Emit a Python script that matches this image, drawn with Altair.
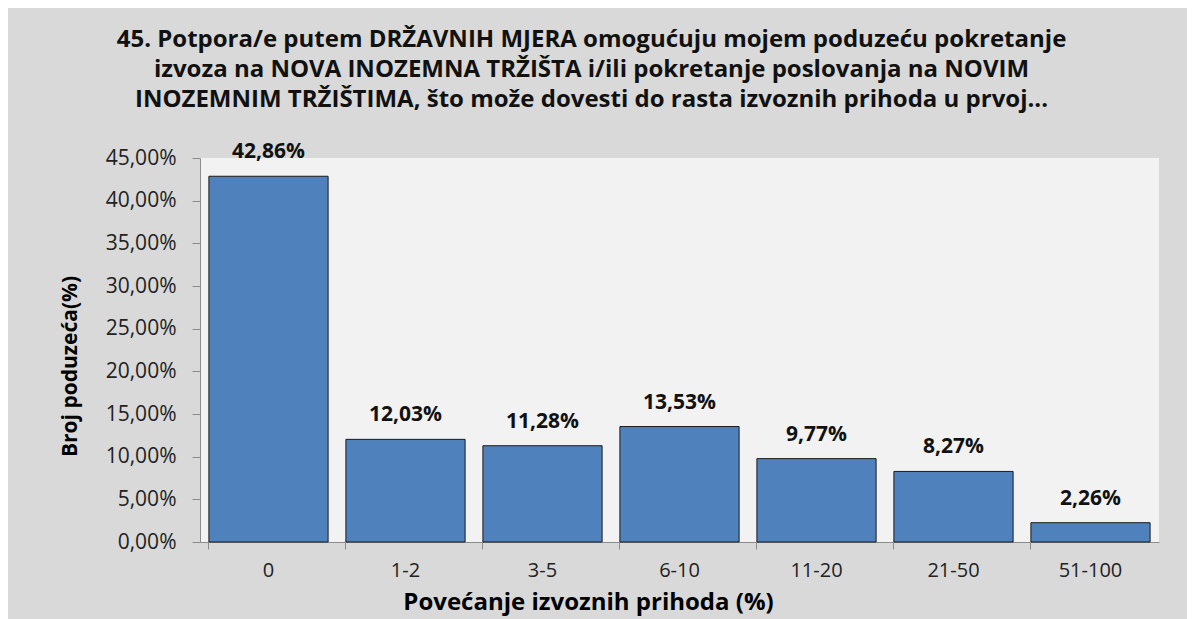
import altair as alt
import pandas as pd

categories = ["0", "1-2", "3-5", "6-10", "11-20", "21-50", "51-100"]
values = [42.86, 12.03, 11.28, 13.53, 9.77, 8.27, 2.26]
labels = ["42,86%", "12,03%", "11,28%", "13,53%", "9,77%", "8,27%", "2,26%"]
title_lines = [
    "45. Potpora/e putem DRŽAVNIH MJERA omogućuju mojem poduzeću pokretanje",
    "izvoza na NOVA INOZEMNA TRŽIŠTA i/ili  pokretanje poslovanja na NOVIM",
    "INOZEMNIM TRŽIŠTIMA, što može dovesti  do rasta izvoznih prihoda u prvoj...",
]

df = pd.DataFrame({"cat": categories, "val": values, "lab": labels})

FONT = "Open Sans"

x = alt.X(
    "cat:N",
    sort=categories,
    title="Povećanje izvoznih prihoda  (%)",
    scale=alt.Scale(paddingInner=0.13, paddingOuter=0.065),
    axis=alt.Axis(
        labelAngle=0, labelFontSize=20, labelColor="#222", labelPadding=11,
        titleFontSize=24, titleFontWeight="bold", titleColor="#000",
        titleX=388, titleY=67, titleAlign="center", titleBaseline="alphabetic",
        domainColor="#8c8c8c", tickColor="#8c8c8c", tickSize=7, bandPosition=0,
        labelFont=FONT, titleFont=FONT,
    ),
)
y = alt.Y(
    "val:Q",
    title="Broj poduzeća(%)",
    scale=alt.Scale(domain=[0, 45], nice=False),
    axis=alt.Axis(
        values=[0, 5, 10, 15, 20, 25, 30, 35, 40, 45],
        labelExpr="replace(format(datum.value/100, '.2%'), '.', ',')",
        labelFontSize=21, labelColor="#222", labelPadding=16,
        titleFontSize=21, titleFontWeight="bold", titleColor="#000",
        titleX=-130, titleY=208, titleAlign="center", titleBaseline="middle", titleAngle=270,
        domainColor="#8c8c8c", tickColor="#8c8c8c", tickSize=8, grid=False,
        labelFont=FONT, titleFont=FONT,
    ),
)

bars = alt.Chart(df).mark_bar(color="#4F81BD", stroke="#1a1a1a", strokeWidth=1).encode(x=x, y=y)
text = alt.Chart(df).mark_text(
    dy=-24, fontSize=21, fontWeight="bold", font=FONT, color="#111"
).encode(x=x, y=y, text="lab:N")

chart = (
    (bars + text)
    .properties(
        width=959,
        height=384,
        padding={"left": 192, "top": 150, "right": 28, "bottom": 80},
        autosize=alt.AutoSizeParams(type="none"),
        background="#D9D9D9",
        title=alt.TitleParams(
            text=title_lines, fontSize=24, font=FONT, fontWeight="bold", color="#111",
            anchor="middle", dx=-88, offset=29, lineHeight=30,
        ),
    )
    .configure_view(fill="#F2F2F2", stroke=None)
)

chart.save("out.html", embed_options={"renderer": "svg", "actions": False})
